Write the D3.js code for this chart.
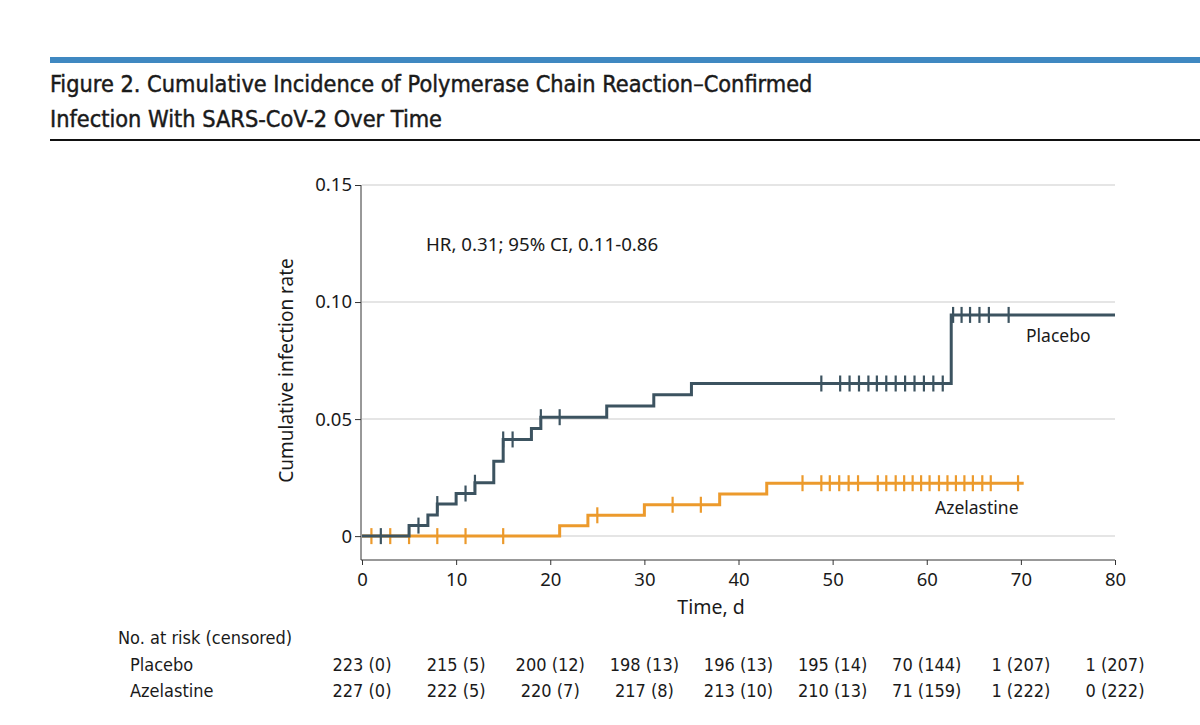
<!DOCTYPE html>
<html>
<head>
<meta charset="utf-8">
<script src="https://cdn.jsdelivr.net/npm/d3@7.9.0/dist/d3.min.js"></script>
<style>
  body { margin: 0; background: #fff; }
  svg text { fill: #1a1a1a; }
  .title { font-family: "Liberation Sans Narrow", "DejaVu Sans Condensed", sans-serif; font-size: 23.3px; fill: #1a1a1a; stroke: #1a1a1a; stroke-width: 0.45px; }
  .chart { font-family: "Noto Sans", sans-serif; font-size: 17px; }
  .risk { font-family: "Liberation Sans Narrow", "DejaVu Sans Condensed", sans-serif; font-size: 18px; }
</style>
</head>
<body>
<svg id="fig" width="1200" height="725"></svg>
<script>
// step curves (day, cumulative infection rate)
const placeboDays = [0, 5, 7, 8, 10, 12, 14, 15, 18, 19, 26, 31, 35, 62.6, 80];
const placeboRates = [0, 0.0045, 0.009, 0.0137, 0.0182, 0.0228, 0.032, 0.0413, 0.046, 0.0508, 0.0556, 0.0604, 0.0652, 0.0945, 0.0945];
const placeboCensored = [2, 6, 8, 11, 12, 15, 16, 19, 21, 48.8, 50.8, 51.8, 52.8, 53.8, 54.7, 55.7, 56.7, 57.7, 58.7, 59.7, 60.7, 61.7, 62.8, 63.7, 64.6, 65.6, 66.6, 68.7];

const azeDays = [0, 21, 24, 30, 38, 43, 70.3];
const azeRates = [0, 0.0044, 0.0089, 0.0134, 0.018, 0.0226, 0.0226];
const azeCensored = [1, 3, 5, 8, 11, 15, 25, 33, 36, 46.8, 48.8, 49.7, 50.7, 51.7, 52.7, 54.8, 55.7, 56.7, 57.6, 58.5, 59.4, 60.3, 61.3, 62.2, 63.1, 64, 64.9, 65.9, 66.8, 69.7];

// number at risk table
const riskDays = [0, 10, 20, 30, 40, 50, 60, 70, 80];
const placeboAtRisk = [223, 215, 200, 198, 196, 195, 70, 1, 1];
const placeboCens = [0, 5, 12, 13, 13, 14, 144, 207, 207];
const azeAtRisk = [227, 222, 220, 217, 213, 210, 71, 1, 0];
const azeCens = [0, 5, 7, 8, 10, 13, 159, 222, 222];

const yTicks = [0, 0.05, 0.10, 0.15];
const xTicks = [0, 10, 20, 30, 40, 50, 60, 70, 80];

const placeboColor = '#3c5360';
const azeColor = '#ec9a2c';

const svg = d3.select('#fig');

// header
svg.append('rect').attr('x', 50).attr('y', 57).attr('width', 1150).attr('height', 6).attr('fill', '#3f88c1');
svg.append('text').attr('class', 'title').attr('x', 50).attr('y', 92)
  .text('Figure 2. Cumulative Incidence of Polymerase Chain Reaction–Confirmed');
svg.append('text').attr('class', 'title').attr('x', 50).attr('y', 127)
  .text('Infection With SARS-CoV-2 Over Time');
svg.append('rect').attr('x', 50).attr('y', 139).attr('width', 1150).attr('height', 2).attr('fill', '#111');

// scales
let x = d3.scaleLinear().domain([0, 80]).range([362, 1115]);
let y = d3.scaleLinear().domain([-0.0102, 0.15]).range([560, 185]);

const chart = svg.append('g').attr('class', 'chart');

// gridlines
chart.append('g').selectAll('line').data(yTicks).join('line')
  .attr('x1', x(0)).attr('x2', x(80))
  .attr('y1', d => y(d)).attr('y2', d => y(d))
  .attr('stroke', '#dcdcdc').attr('stroke-width', 1.5);

// y axis
const yAxis = chart.append('g').attr('transform', `translate(${x(0) - 1},0)`)
  .call(d3.axisLeft(y).tickValues(yTicks).tickFormat(d => d === 0 ? '0' : d3.format('.2f')(d)).tickSize(6).tickSizeOuter(0));
yAxis.select('.domain').attr('stroke', '#333').attr('d', `M0,${y(0.15)}V560`);
yAxis.selectAll('.tick line').attr('stroke', '#333');
yAxis.selectAll('.tick text').attr('font-size', 18.5).attr('font-family', 'Noto Sans').attr('fill', '#1a1a1a').attr('x', -9);

// x axis
const xAxis = chart.append('g').attr('transform', 'translate(0,560)')
  .call(d3.axisBottom(x).tickValues(xTicks).tickSize(5).tickSizeOuter(0));
xAxis.select('.domain').attr('stroke', '#333').attr('d', `M${x(0) - 1},0H${x(80)}`);
xAxis.selectAll('.tick line').attr('stroke', '#333');
xAxis.selectAll('.tick text').attr('font-size', 18.5).attr('font-family', 'Noto Sans').attr('fill', '#1a1a1a').attr('dy', '0.95em');

chart.append('text').attr('x', 711).attr('y', 614).attr('text-anchor', 'middle')
  .attr('font-size', 19.5).text('Time, d');
chart.append('text').attr('transform', `translate(293,${(y(0.15) + 560) / 2 - 2}) rotate(-90)`)
  .attr('text-anchor', 'middle').attr('font-size', 19).text('Cumulative infection rate');

chart.append('text').attr('x', 426).attr('y', 251).attr('font-size', 18.7)
  .text('HR, 0.31; 95% CI, 0.11-0.86');

// curves
function drawGroup(days, rates, censored, color) {
  const pts = days.map((d, i) => [d, rates[i]]);
  const line = d3.line().x(d => x(d[0])).y(d => y(d[1])).curve(d3.curveStepAfter);
  chart.append('path').attr('d', line(pts)).attr('fill', 'none')
    .attr('stroke', color).attr('stroke-width', 3);
  const rateAt = t => {
    let v = 0;
    days.forEach((d, i) => { if (d <= t) v = rates[i]; });
    return v;
  };
  chart.append('g').selectAll('line').data(censored).join('line')
    .attr('x1', d => x(d)).attr('x2', d => x(d))
    .attr('y1', d => y(rateAt(d)) - 8).attr('y2', d => y(rateAt(d)) + 8)
    .attr('stroke', color).attr('stroke-width', 2.2);
}
drawGroup(azeDays, azeRates, azeCensored, azeColor);
drawGroup(placeboDays, placeboRates, placeboCensored, placeboColor);

chart.append('text').attr('x', 1026).attr('y', 342).attr('font-size', 17.5).text('Placebo');
chart.append('text').attr('x', 935).attr('y', 514).attr('font-size', 17.5).text('Azelastine');

// risk table
const risk = svg.append('g').attr('class', 'risk');
risk.append('text').attr('x', 118).attr('y', 644).text('No. at risk (censored)');
risk.append('text').attr('x', 130).attr('y', 671).text('Placebo');
risk.append('text').attr('x', 130).attr('y', 697).text('Azelastine');
risk.append('g').selectAll('text').data(riskDays).join('text')
  .attr('x', d => x(d)).attr('y', 671).attr('text-anchor', 'middle')
  .text((d, i) => `${placeboAtRisk[i]} (${placeboCens[i]})`);
risk.append('g').selectAll('text').data(riskDays).join('text')
  .attr('x', d => x(d)).attr('y', 697).attr('text-anchor', 'middle')
  .text((d, i) => `${azeAtRisk[i]} (${azeCens[i]})`);
</script>
</body>
</html>
